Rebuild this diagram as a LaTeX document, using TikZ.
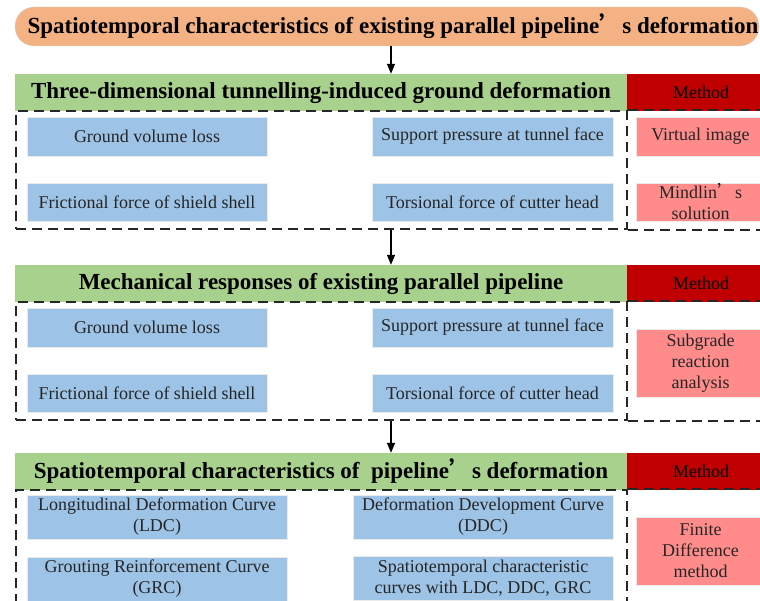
\documentclass[tikz,border=0pt]{standalone}
\usepackage{fontspec}
\setmainfont{Liberation Serif}
\newfontfamily\cjk{Noto Sans CJK SC}
\usepackage{tikz}
\usetikzlibrary{arrows.meta}
\definecolor{bannerorange}{HTML}{F4B183}
\definecolor{headgreen}{HTML}{A9D18E}
\definecolor{methred}{HTML}{C00000}
\definecolor{factblue}{HTML}{9DC3E6}
\definecolor{methpink}{HTML}{FF8B8B}
\newcommand{\fq}[0]{{\cjk ’}}

\begin{document}
\begin{tikzpicture}[x=1pt, y=-1pt, font=\fontsize{18}{21}\selectfont,
  banner/.style={fill=bannerorange, draw=black!15, rounded corners=19pt, minimum width=744pt,
    minimum height=39pt, inner sep=0pt, font=\fontsize{23}{26}\selectfont\bfseries},
  head/.style={fill=headgreen, minimum width=612pt, minimum height=37pt, inner sep=0pt,
    font=\fontsize{23}{26}\selectfont\bfseries},
  meth/.style={fill=methred, minimum width=148pt, minimum height=37pt, inner sep=0pt},
  fbox/.style={fill=factblue, draw=black!8, line width=0.8pt, inner sep=0pt, align=center, text=black!85},
  mbox/.style={fill=methpink, draw=black!8, line width=0.8pt, inner sep=0pt, align=center, text=black!85,
    minimum width=129pt},
  dframe/.style={draw=black!85, line width=1.6pt, dash pattern=on 10pt off 6pt},
  arr/.style={-{Triangle[length=10pt, width=8pt]}, line width=1.2pt}]
\useasboundingbox (0,0) rectangle (760,601);
\clip (0,0) rectangle (760,601);
\coordinate (axis) at (391,0);
% Title
\node[banner] (title) at (387,26.5) {\hspace{12pt}Spatiotemporal characteristics of existing parallel pipeline\fq s deformation};
% Section 1: ground deformation
\node[head] (head1) at (321,92.5) {Three-dimensional tunnelling-induced ground deformation};
\node[meth] (meth1) at (701,92.5) {Method};
\node[dframe, minimum width=611pt, minimum height=118pt] (frame1) at (321.5,170) {};
\draw[dframe] (frame1.north east) -- ++(160,0) (frame1.south east) -- ++(160,0);
\node[fbox, minimum width=240pt, minimum height=39pt] (loss1) at (147,136.5) {Ground volume loss};
\node[fbox, minimum width=241pt, minimum height=39pt] (face1) at (492.5,136.5) {Support pressure at tunnel face};
\node[fbox, minimum width=240pt, minimum height=38pt] (shell1) at (147,202) {Frictional force of shield shell};
\node[fbox, minimum width=241pt, minimum height=38pt] (cutter1) at (492.5,202) {Torsional force of cutter head};
\node[mbox, minimum height=39pt] (image1) at (700.5,136.5) {Virtual image};
\node[mbox, minimum height=38pt] (mindlin1) at (700.5,202) {Mindlin\fq s\\solution};
% Section 2: pipeline responses
\node[head] (head2) at (321,283.5) {Mechanical responses of existing parallel pipeline};
\node[meth] (meth2) at (701,283.5) {Method};
\node[dframe, minimum width=611pt, minimum height=118pt] (frame2) at (321.5,361) {};
\draw[dframe] (frame2.north east) -- ++(160,0) (frame2.south east) -- ++(160,0);
\node[fbox, minimum width=240pt, minimum height=39pt] (loss2) at (147,327.5) {Ground volume loss};
\node[fbox, minimum width=241pt, minimum height=39pt] (face2) at (492.5,327.5) {Support pressure at tunnel face};
\node[fbox, minimum width=240pt, minimum height=38pt] (shell2) at (147,393) {Frictional force of shield shell};
\node[fbox, minimum width=241pt, minimum height=38pt] (cutter2) at (492.5,393) {Torsional force of cutter head};
\node[mbox, minimum height=68pt] (subgrade2) at (700.5,363) {Subgrade\\reaction\\analysis};
% Section 3: deformation curves
\node[head] (head3) at (321,471.5) {Spatiotemporal characteristics of \ pipeline\fq s deformation};
\node[meth] (meth3) at (701,471.5) {Method};
\node[dframe, minimum width=611pt, minimum height=130pt] (frame3) at (321.5,555) {};
\draw[dframe] (frame3.north east) -- ++(160,0) (frame3.south east) -- ++(160,0);
\node[fbox, minimum width=260pt, minimum height=44pt] (ldc3) at (157,517) {Longitudinal Deformation Curve\\(LDC)};
\node[fbox, minimum width=260pt, minimum height=44pt] (ddc3) at (483,517) {Deformation Development Curve\\(DDC)};
\node[fbox, minimum width=260pt, minimum height=44pt] (grc3) at (157,579) {Grouting Reinforcement Curve\\(GRC)};
\node[fbox, minimum width=260pt, minimum height=44pt] (all3) at (483,578) {Spatiotemporal characteristic\\curves with LDC, DDC, GRC};
\node[mbox, minimum height=68pt] (fdm3) at (700.5,551) {Finite\\Difference\\method};
% Arrows
\draw[arr] (title.south -| axis) -- (head1.north -| axis);
\draw[arr] (frame1.south -| axis) -- (head2.north -| axis);
\draw[arr] (frame2.south -| axis) -- (head3.north -| axis);
\end{tikzpicture}
\end{document}
